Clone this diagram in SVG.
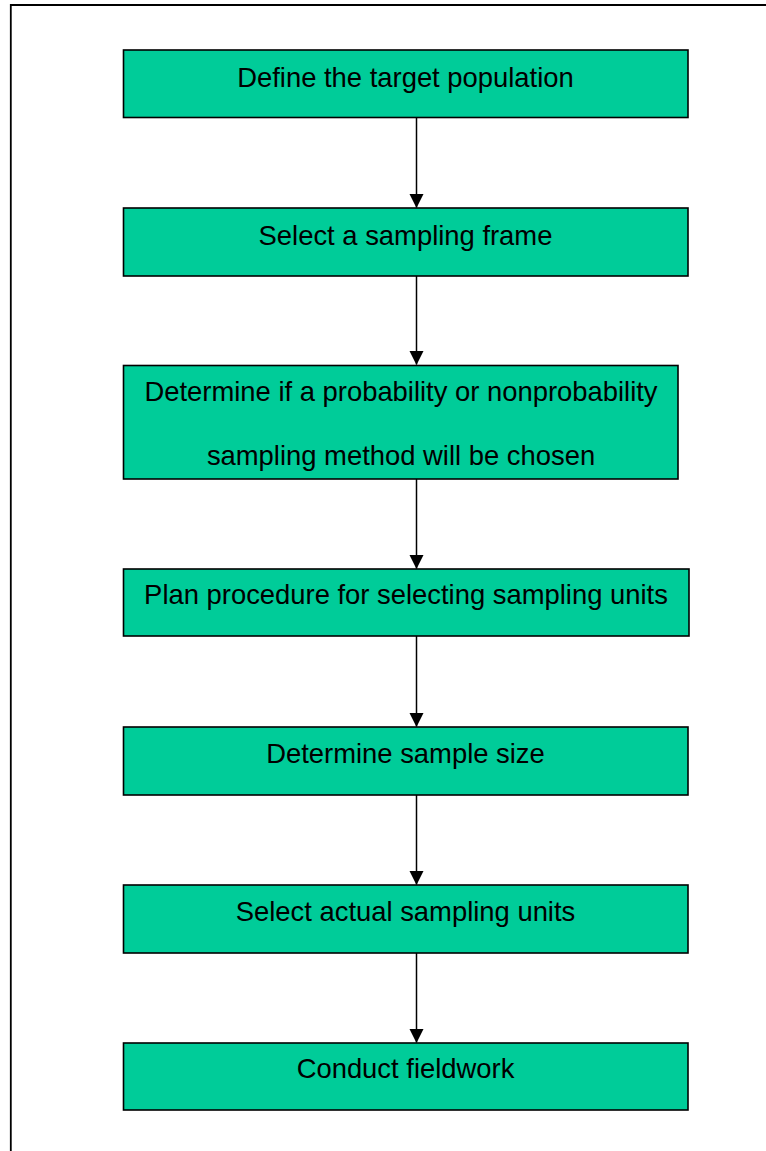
<svg xmlns="http://www.w3.org/2000/svg" width="766" height="1151" viewBox="0 0 766 1151">
<style>
.box{fill:#00CC99;stroke:#000;stroke-width:1.6}
.lbl{font-family:"Liberation Sans",Arial,sans-serif;font-size:27.4px;fill:#000;text-anchor:middle}
.con{stroke:#000;stroke-width:1.5;fill:none}
.frame{stroke:#000;stroke-width:1.8;fill:none}
</style>
<defs>
<marker id="ah" markerUnits="userSpaceOnUse" markerWidth="15" markerHeight="15" refX="14" refY="7.25" orient="auto">
<path d="M0,0 L14.5,7.25 L0,14.5 Z" fill="#000"/>
</marker>
</defs>
<rect width="766" height="1151" fill="#fff"/>
<path class="frame" d="M10.8,1151 V5 H766"/>
<g id="connectors">
<line class="con" x1="416.5" y1="117" x2="416.5" y2="207.5" marker-end="url(#ah)"/>
<line class="con" x1="416.5" y1="276" x2="416.5" y2="364.5" marker-end="url(#ah)"/>
<line class="con" x1="416.5" y1="479" x2="416.5" y2="568.5" marker-end="url(#ah)"/>
<line class="con" x1="416.5" y1="636" x2="416.5" y2="726.5" marker-end="url(#ah)"/>
<line class="con" x1="416.5" y1="795" x2="416.5" y2="884.5" marker-end="url(#ah)"/>
<line class="con" x1="416.5" y1="953" x2="416.5" y2="1042.5" marker-end="url(#ah)"/>
</g>
<g id="n1"><rect class="box" x="123.5" y="50" width="564.5" height="67.5"/><text class="lbl" x="405.5" y="86.5">Define the target population</text></g>
<g id="n2"><rect class="box" x="123.5" y="208" width="564.5" height="68"/><text class="lbl" x="405.5" y="245">Select a sampling frame</text></g>
<g id="n3"><rect class="box" x="123.5" y="365.5" width="554.5" height="113.5"/><text class="lbl" x="401" y="401">Determine if a probability or nonprobability</text><text class="lbl" x="401" y="465">sampling method will be chosen</text></g>
<g id="n4"><rect class="box" x="123.5" y="569" width="565.5" height="67"/><text class="lbl" x="406" y="604">Plan procedure for selecting sampling units</text></g>
<g id="n5"><rect class="box" x="123.5" y="727" width="564.5" height="68"/><text class="lbl" x="405.5" y="763">Determine sample size</text></g>
<g id="n6"><rect class="box" x="123.5" y="885" width="564.5" height="68"/><text class="lbl" x="405.5" y="921">Select actual sampling units</text></g>
<g id="n7"><rect class="box" x="123.5" y="1043" width="564.5" height="67"/><text class="lbl" x="405.5" y="1078">Conduct fieldwork</text></g>
</svg>
